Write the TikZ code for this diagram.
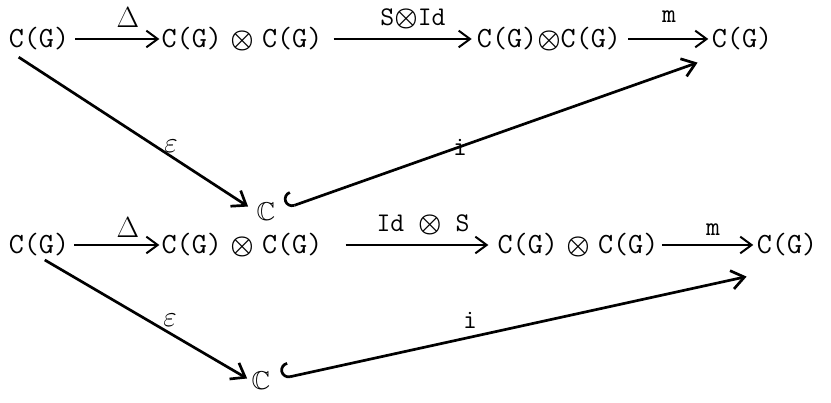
\documentclass[tikz,border=0pt]{standalone}
\usepackage{amssymb,amsmath,graphicx}
\usepackage{tikz}
\usetikzlibrary{arrows.meta}

\newcommand{\tens}{\scalebox{0.9}{$\boldsymbol{\otimes}$}}

\tikzset{
  obj/.style={inner sep=0pt, font=\fontsize{25}{28}\selectfont\ttfamily},
  fld/.style={inner sep=0pt, font=\fontsize{22}{26}\selectfont},
  lbl/.style={inner sep=0pt, font=\fontsize{23}{26}\selectfont\ttfamily},
  arr/.style={line width=1.7pt, -{Straight Barb[length=3.4mm,width=5mm,line width=1.7pt]}},
  diag/.style={line width=2.3pt, -{Straight Barb[length=3.8mm,width=5.6mm]}},
  incl/.style={line width=2.3pt, {Hooks[arc=180,width=9mm,length=2.5mm,right]}-{Straight Barb[length=3.8mm,width=5.6mm]}},
}

\begin{document}
\begin{tikzpicture}[x=0.03cm, y=-0.03cm]
    \useasboundingbox (0,0) rectangle (831,403);

    % Upper row
    \node[obj] (a1) at (39,39) {C(G)};
    \node[obj] (b1) at (242,39) {C(G)\hspace{2.5mm}\tens\hspace{2.5mm}C(G)};
    \node[obj] (c1) at (549,39) {C(G)\tens C(G)};
    \node[obj] (d1) at (742,39) {C(G)};
    \node[fld] (k1) at (266,212) {$\mathbb{C}$};

    \draw[arr, shorten <=1.8mm, shorten >=0.6mm] (a1.east) -- (b1.west);
    \draw[arr, shorten <=3.3mm, shorten >=1.5mm] (b1.east) -- (c1.west);
    \draw[arr, shorten <=2.1mm, shorten >=1mm] (c1.east) -- (d1.west);
    \node[lbl] (delta1) at (128,18) {$\Delta$};
    \node[lbl] (s1) at (413,19) {S\tens Id};
    \node[lbl] (m1) at (669,17) {m};

    \draw[diag, shorten <=3.6mm, shorten >=3mm] (a1.south west) -- (k1.west);
    \draw[incl, shorten <=3.5mm] (k1.east) -- ([shift={(-14,12)}]d1.south west);
    \node[lbl] (eps1) at (171,146) {$\varepsilon$};
    \node[lbl] (i1) at (460,147) {i};

    % Lower row
    \node[obj] (a2) at (39,245) {C(G)};
    \node[obj] (b2) at (242,245) {C(G)\hspace{2.5mm}\tens\hspace{2.5mm}C(G)};
    \node[obj] (c2) at (578,245) {C(G)\hspace{2.5mm}\tens\hspace{2.5mm}C(G)};
    \node[obj] (d2) at (787,245) {C(G)};
    \node[fld] (k2) at (261,381) {$\mathbb{C}$};

    \draw[arr, shorten <=1.5mm, shorten >=0.6mm] (a2.east) -- (b2.west);
    \draw[arr, shorten <=6.9mm, shorten >=2.7mm] (b2.east) -- (c2.west);
    \draw[arr, shorten <=1mm, shorten >=1mm] (c2.east) -- (d2.west);
    \node[lbl] (delta2) at (128,228) {$\Delta$};
    \node[lbl] (s2) at (423,225) {Id \tens\ S};
    \node[lbl] (m2) at (713,230) {m};

    \draw[diag, shorten <=2mm, shorten >=1.5mm] (a2.south) -- (k2.west);
    \draw[incl, shorten <=3.5mm] (k2.east) -- ([shift={(-10,20)}]d2.south west);
    \node[lbl] (eps2) at (170,320) {$\varepsilon$};
    \node[lbl] (i2) at (470,320) {i};
\end{tikzpicture}
\end{document}
